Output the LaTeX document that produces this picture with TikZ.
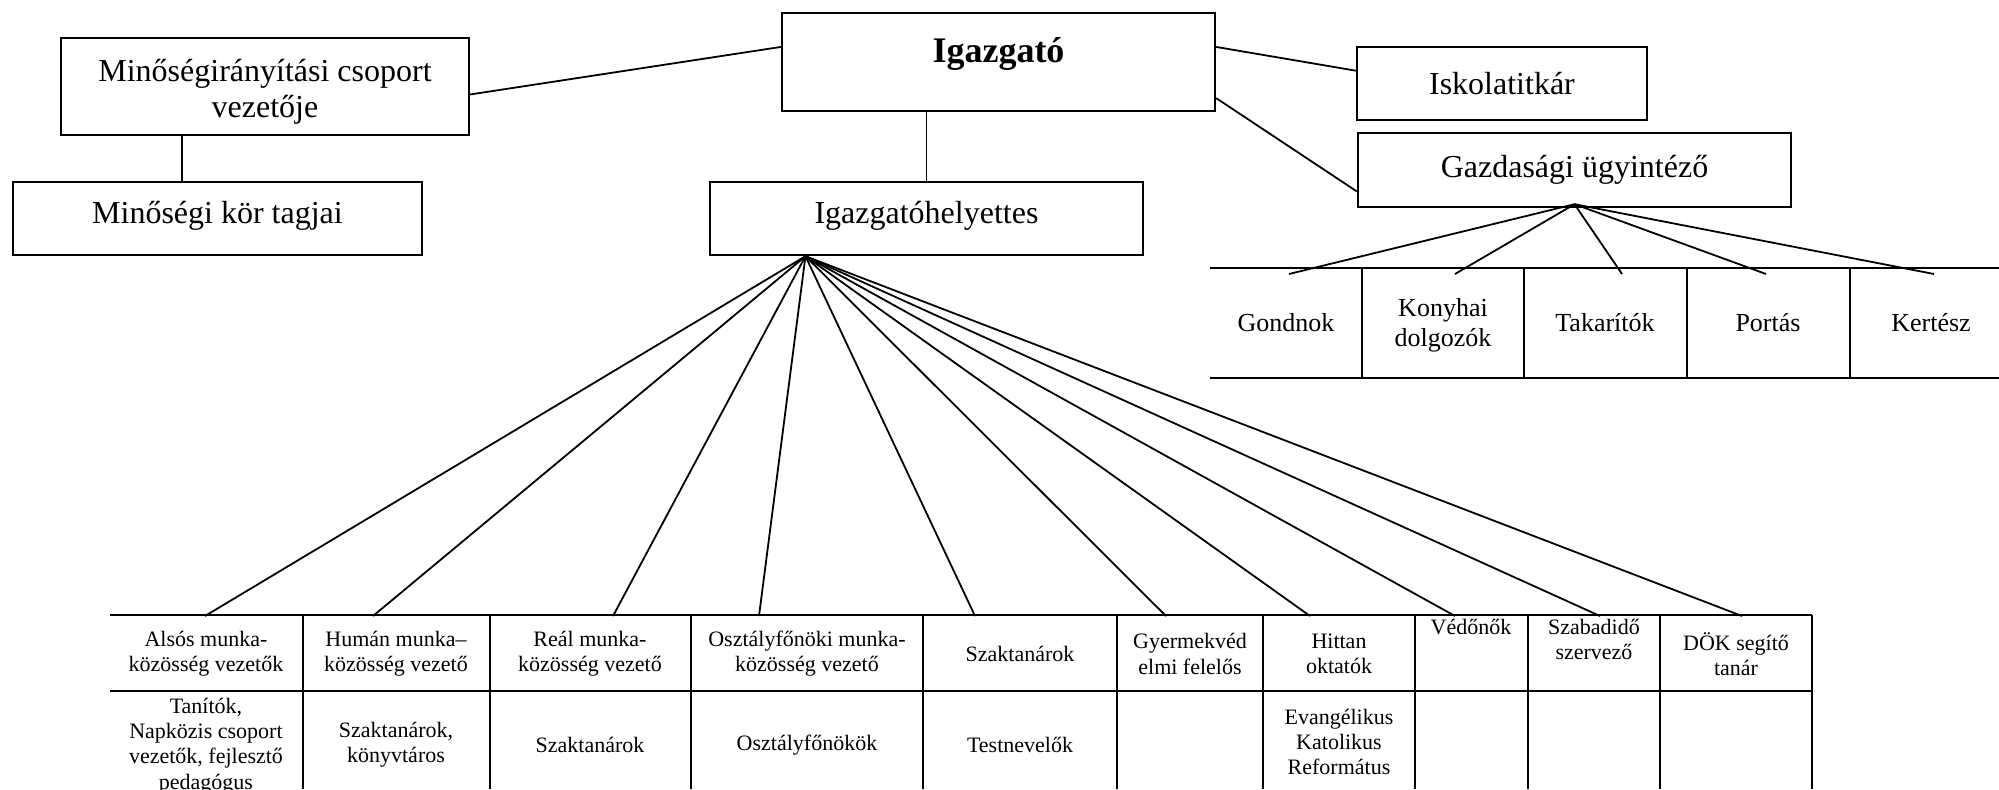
\documentclass[tikz,border=0pt]{standalone}
\usepackage{fontspec}
\setmainfont{Liberation Serif}
\usetikzlibrary{calc}
\begin{document}
\begin{tikzpicture}[x=0.5pt,y=-0.5pt,
  box/.style={draw, line width=1.2pt, inner sep=0pt},
  conn/.style={line width=0.9pt},
  tbl/.style={line width=1.2pt},
  big/.style={font=\fontsize{16pt}{18pt}\selectfont, align=center, inner sep=0pt},
  mid/.style={font=\fontsize{13pt}{15pt}\selectfont, align=center, inner sep=0pt},
  cell/.style={font=\fontsize{11pt}{12.6pt}\selectfont, align=center, inner sep=0pt}]
\useasboundingbox (0,0) rectangle (1999,789);

% top boxes
\node[box, minimum width=216.5pt, minimum height=49pt] (igaz) at (998.5,62) {};
\node[font=\fontsize{18pt}{20pt}\selectfont\bfseries, anchor=base, inner sep=0pt] (igazt) at (998.5,62) {Igazgató};
\node[box, minimum width=204pt, minimum height=48.5pt] (minos) at (265,86.5) {};
\node[big] (minost) at (265,92) {Minőségirányítási csoport\\vezetője};
\node[box, minimum width=204.5pt, minimum height=36.5pt] (kor) at (217.5,218.5) {};
\node[big] (kort) at (217.5,215.5) {Minőségi kör tagjai};
\node[box, minimum width=216.5pt, minimum height=36.5pt] (helyettes) at (926.5,218.5) {};
\node[big] (helyt) at (926.5,215.5) {Igazgatóhelyettes};
\node[box, big, minimum width=145pt, minimum height=36.5pt] (iskola) at (1502,83.5) {Iskolatitkár};
\node[box, big, minimum width=216.5pt, minimum height=37pt] (gazd) at (1574.5,170) {Gazdasági ügyintéző};

% connectors among top boxes
\draw[conn] ($(minos.north east)!0.58!(minos.south east)$) -- ($(igaz.north west)!0.35!(igaz.south west)$);
\draw[conn] ($(igaz.north east)!0.35!(igaz.south east)$) -- ($(iskola.north west)!0.33!(iskola.south west)$);
\draw[conn] ($(igaz.north east)!0.86!(igaz.south east)$) -- ($(gazd.north west)!0.78!(gazd.south west)$);
\draw[conn] (helyettes.north) -- (helyettes.north |- igaz.south);
\coordinate (mk) at ($(kor.north west)!0.413!(kor.north east)$);
\draw[conn] (mk) -- (mk |- minos.south);

% Gazdasagi sub-table
\draw[tbl] (1210,268) -- (1999,268);
\draw[tbl] (1210,378) -- (1999,378);
\foreach \x in {1362,1524,1687,1850} \draw[tbl] (\x,268) -- (\x,378);
\node[mid] (gond) at (1286,323) {Gondnok};
\node[mid] (kony) at (1443,325) {Konyhai\\dolgozók};
\node[mid] (takar) at (1605,323) {Takarítók};
\node[mid] (port) at (1768,323) {Portás};
\node[mid] (kert) at (1931,323) {Kertész};
\coordinate (ga) at ($(gazd.south)+(0,-4)$);
\foreach \x [count=\i] in {1289,1455,1622,1766,1934} {
  \coordinate (g\i) at (\x,274);
  \draw[conn] (ga) -- (g\i);
}

% bottom table grid
\draw[tbl] (110,615) -- (1812,615);
\draw[tbl] (110,691) -- (1812,691);
\foreach \x in {303,490,691,923,1117,1263,1415,1528,1660,1812} \draw[tbl] (\x,615) -- (\x,789);

% fan from Igazgatohelyettes
\coordinate (ha) at ($(helyettes.south west)!0.222!(helyettes.south east)$);
\foreach \x [count=\i] in {205,373,613,759,975,1166,1310,1455,1600,1742} {
  \coordinate (f\i) at (\x,616);
  \draw[conn] (ha) -- (f\i);
}

% header row
\node[cell] (h1) at (206,654) {Alsós munka-\\közösség vezetők};
\node[cell] (h2) at (396,654) {Humán munka–\\közösség vezető};
\node[cell] (h3) at (590,654) {Reál munka-\\közösség vezető};
\node[cell] (h4) at (807,654) {Osztályfőnöki munka-\\közösség vezető};
\node[cell] (h5) at (1020,654) {Szaktanárok};
\node[cell] (h6) at (1190,654) {Gyermekvéd\\elmi felelős};
\node[cell] (h7) at (1339,654) {Hittan\\oktatók};
\node[cell, anchor=north] (h8) at (1471,619) {Védőnők};
\node[cell, anchor=north] (h9) at (1594,619) {Szabadidő\\szervező};
\node[cell] (h10) at (1736,654) {DÖK segítő\\tanár};

% second row
\node[cell] (r1) at (206,746) {Tanítók,\\Napközis csoport\\vezetők, fejlesztő\\pedagógus};
\node[cell] (r2) at (396,745) {Szaktanárok,\\könyvtáros};
\node[cell] (r3) at (590,745) {Szaktanárok};
\node[cell] (r4) at (807,745) {Osztályfőnökök};
\node[cell] (r5) at (1020,745) {Testnevelők};
\node[cell] (r7) at (1339,742) {Evangélikus\\Katolikus\\Református};
\end{tikzpicture}
\end{document}
